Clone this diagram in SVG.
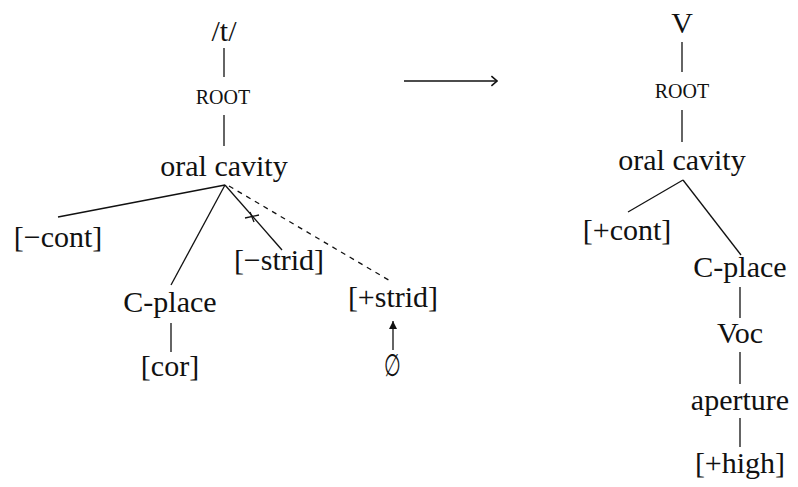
<svg xmlns="http://www.w3.org/2000/svg" width="798" height="487" viewBox="0 0 798 487">
<style>
text{font-family:"Liberation Serif","Times New Roman",serif;font-size:30px;fill:#111;text-anchor:middle}
text.sc{font-size:20px}
line{stroke:#111;stroke-width:1.3;fill:none}
line.d{stroke-dasharray:5,5}
</style>
<defs>
<marker id="tri" viewBox="0 0 10 10" refX="10" refY="5" markerWidth="10" markerHeight="8" orient="auto" markerUnits="userSpaceOnUse">
<path d="M0,0 L10,5 L0,10 Z" fill="#111"/>
</marker>
<marker id="chev" viewBox="0 0 10 14" refX="9" refY="7" markerWidth="8" markerHeight="12" orient="auto" markerUnits="userSpaceOnUse">
<path d="M2,1 L9,7 L2,13" fill="none" stroke="#111" stroke-width="2"/>
</marker>
</defs>
<rect width="798" height="487" fill="#fff"/>
<g id="connectors">
<line x1="224" y1="48" x2="224" y2="77"/>
<line x1="224" y1="115" x2="224" y2="146"/>
<line x1="225" y1="185" x2="58" y2="217"/>
<line x1="225" y1="185" x2="171" y2="285"/>
<line x1="171" y1="323" x2="171" y2="352"/>
<line x1="225" y1="185" x2="282" y2="250"/>
<line x1="245" y1="218" x2="259" y2="215"/>
<line x1="250" y1="212" x2="254" y2="222"/>
<line class="d" x1="229" y1="186" x2="392" y2="282"/>
<line x1="393" y1="350" x2="393" y2="321" marker-end="url(#tri)"/>
<line x1="404" y1="81" x2="497" y2="81" marker-end="url(#chev)"/>
<line x1="682" y1="42" x2="682" y2="72"/>
<line x1="682" y1="110" x2="682" y2="142"/>
<line x1="683" y1="180" x2="628" y2="212"/>
<line x1="683" y1="180" x2="741" y2="255"/>
<line x1="740" y1="287" x2="740" y2="318"/>
<line x1="740" y1="352" x2="740" y2="384"/>
<line x1="740" y1="418" x2="740" y2="447"/>
</g>
<g id="n-t"><text x="224" y="41">/t/</text></g>
<g id="n-root1"><text class="sc" x="223" y="104">ROOT</text></g>
<g id="n-oral1"><text x="224" y="176">oral cavity</text></g>
<g id="n-mcont"><text x="58" y="247">[−cont]</text></g>
<g id="n-cplace1"><text x="170" y="312">C-place</text></g>
<g id="n-cor"><text x="170" y="376">[cor]</text></g>
<g id="n-mstrid"><text x="279" y="270">[−strid]</text></g>
<g id="n-pstrid"><text x="393" y="307">[+strid]</text></g>
<g id="n-null"><text x="0" y="0" transform="translate(393 376) scale(0.65 1.05)">∅</text></g>
<g id="n-V"><text x="682" y="33">V</text></g>
<g id="n-root2"><text class="sc" x="682" y="98">ROOT</text></g>
<g id="n-oral2"><text x="682" y="170">oral cavity</text></g>
<g id="n-pcont"><text x="627" y="240">[+cont]</text></g>
<g id="n-cplace2"><text x="740" y="277">C-place</text></g>
<g id="n-voc"><text x="740" y="343">Voc</text></g>
<g id="n-aperture"><text x="740" y="410">aperture</text></g>
<g id="n-high"><text x="740" y="473">[+high]</text></g>
</svg>
